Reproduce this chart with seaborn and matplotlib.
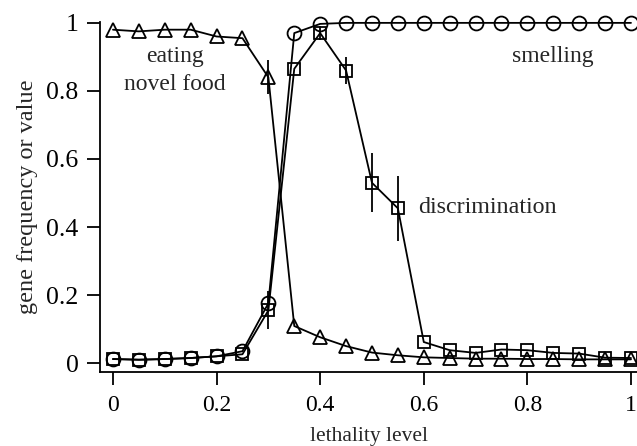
"""
Gene frequency vs lethality level.
"""
import numpy as np
import pandas as pd
import matplotlib.pyplot as plt
import seaborn as sns

# lethality levels 0, 0.05, ..., 1
lethality = [0.0, 0.05, 0.1, 0.15, 0.2, 0.25, 0.3, 0.35, 0.4, 0.45, 0.5,
             0.55, 0.6, 0.65, 0.7, 0.75, 0.8, 0.85, 0.9, 0.95, 1.0]

eating = [0.98, 0.975, 0.98, 0.98, 0.96, 0.955, 0.84, 0.109, 0.076, 0.05, 0.031,
          0.023, 0.017, 0.015, 0.013, 0.013, 0.012, 0.012, 0.011, 0.011, 0.011]
eating_err = [0, 0, 0, 0, 0, 0, 0.05, 0, 0, 0, 0,
              0, 0, 0, 0, 0, 0, 0, 0, 0, 0]

smelling = [0.012, 0.01, 0.012, 0.015, 0.02, 0.035, 0.176, 0.97, 0.997, 1.0, 1.0,
            1.0, 1.0, 1.0, 1.0, 1.0, 1.0, 1.0, 1.0, 1.0, 1.0]

discrimination = [0.012, 0.01, 0.012, 0.015, 0.02, 0.026, 0.155, 0.865, 0.97, 0.86, 0.53,
                  0.455, 0.062, 0.038, 0.03, 0.04, 0.038, 0.03, 0.028, 0.016, 0.015]
discrimination_err = [0, 0, 0, 0, 0, 0, 0.056, 0, 0.02, 0.04, 0.087,
                      0.095, 0, 0, 0, 0, 0, 0, 0, 0, 0]

tick_vals = [0, 0.2, 0.4, 0.6, 0.8, 1.0]
tick_labels = ['0', '0.2', '0.4', '0.6', '0.8', '1']

sns.set_style("ticks")
plt.rcParams['font.family'] = ['Liberation Serif', 'DejaVu Serif']

fig = plt.figure(figsize=(6.37, 4.46), dpi=100)
ax = fig.add_axes([0.157, 0.166, 0.843, 0.785])

df = pd.DataFrame({
    'lethality': lethality * 3,
    'value': eating + smelling + discrimination,
    'gene': ['eating'] * 21 + ['smelling'] * 21 + ['discrimination'] * 21,
})

markers = {'eating': '^', 'smelling': 'o', 'discrimination': 's'}
sizes = {'eating': 10.5, 'smelling': 10, 'discrimination': 9}
for gene, sub in df.groupby('gene', sort=False):
    sns.lineplot(data=sub, x='lethality', y='value', ax=ax, color='black',
                 linewidth=1.3, marker=markers[gene], markersize=sizes[gene],
                 markerfacecolor='none', markeredgecolor='black',
                 markeredgewidth=1.3, clip_on=False)

# error bars
ax.errorbar(lethality, eating, yerr=eating_err, fmt='none', ecolor='black',
            elinewidth=1.3, clip_on=False)
ax.errorbar(lethality, discrimination, yerr=discrimination_err, fmt='none',
            ecolor='black', elinewidth=1.3, clip_on=False)

ax.set_xlim(-0.025, 1.0116)
ax.set_ylim(-0.026, 1.003)
ax.set_xticks(tick_vals)
ax.set_xticklabels(tick_labels)
ax.set_yticks(tick_vals)
ax.set_yticklabels(tick_labels)
ax.tick_params(axis='both', direction='out', length=9.5, width=1.3, colors='black')
ax.tick_params(axis='x', labelsize=17, pad=7)
ax.tick_params(axis='y', labelsize=18.5, pad=6)
ax.set_xlabel('lethality level', fontsize=15.5, labelpad=8)
ax.set_ylabel('gene frequency or value', fontsize=17.5, labelpad=6)

sns.despine(ax=ax, top=True, right=True)
for side in ['left', 'bottom']:
    ax.spines[side].set_linewidth(1.3)
    ax.spines[side].set_color('black')

ax.text(0.12, 0.859, 'eating\nnovel food', fontsize=17, ha='center', va='center',
        linespacing=1.45)
ax.text(0.85, 0.9, 'smelling', fontsize=17, ha='center', va='center')
ax.text(0.589, 0.456, 'discrimination', fontsize=17.3, ha='left', va='center')

fig.savefig('out.png', dpi=100)
plt.close(fig)
